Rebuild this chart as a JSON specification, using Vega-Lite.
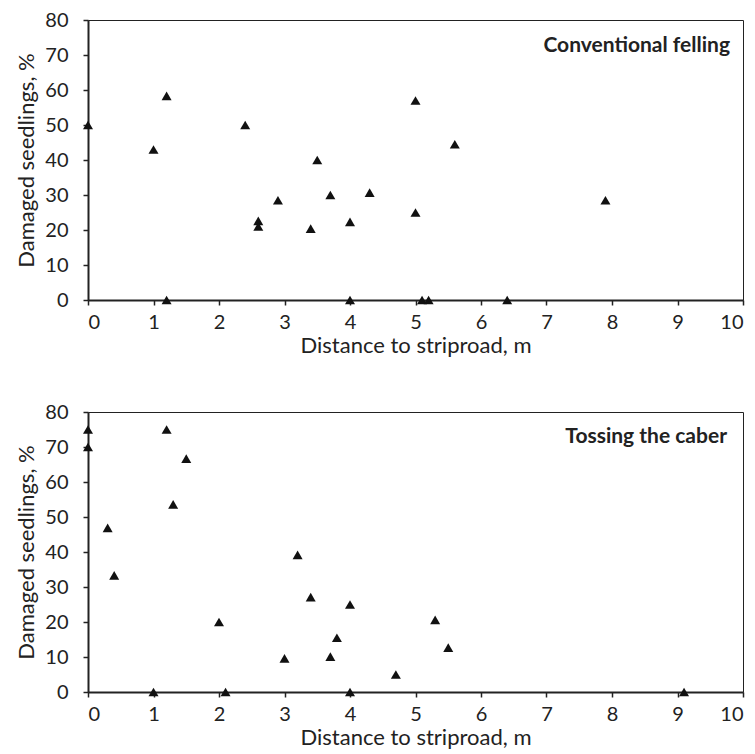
{
  "$schema": "https://vega.github.io/schema/vega-lite/v6.json",
  "padding": {"top": 9, "left": 15, "right": 5, "bottom": 0},
  "spacing": 44,
  "config": {
    "font": "Lato",
    "view": {"stroke": "#222", "strokeWidth": 1},
    "axis": {
      "grid": false,
      "domainColor": "#222",
      "domainWidth": 2,
      "tickColor": "#222",
      "tickWidth": 1.5,
      "tickSize": 5,
      "labelFont": "Lato",
      "labelFontSize": 20,
      "labelColor": "#222",
      "titleFont": "Lato",
      "titleFontSize": 22,
      "titleFontWeight": "normal",
      "titleColor": "#222"
    },
    "axisX": {"labelPadding": 7, "titlePadding": 3},
    "axisY": {"labelPadding": 15, "titlePadding": 6},
    "title": {"font": "Lato", "fontSize": 21, "fontWeight": "bold", "color": "#222"}
  },
  "datasets": {
    "conventional": [
      {"distance": 0, "damaged": 50},
      {"distance": 1.0, "damaged": 43},
      {"distance": 1.2, "damaged": 58.3},
      {"distance": 1.2, "damaged": 0},
      {"distance": 2.4, "damaged": 50},
      {"distance": 2.6, "damaged": 22.6},
      {"distance": 2.6, "damaged": 21},
      {"distance": 2.9, "damaged": 28.5},
      {"distance": 3.4, "damaged": 20.4},
      {"distance": 3.5, "damaged": 40},
      {"distance": 3.7, "damaged": 30},
      {"distance": 4.0, "damaged": 22.3},
      {"distance": 4.0, "damaged": 0},
      {"distance": 4.3, "damaged": 30.7},
      {"distance": 5.0, "damaged": 57},
      {"distance": 5.0, "damaged": 25},
      {"distance": 5.1, "damaged": 0},
      {"distance": 5.2, "damaged": 0},
      {"distance": 5.6, "damaged": 44.5},
      {"distance": 6.4, "damaged": 0},
      {"distance": 7.9, "damaged": 28.5}
    ],
    "caber": [
      {"distance": 0, "damaged": 75},
      {"distance": 0, "damaged": 70},
      {"distance": 0.3, "damaged": 46.9},
      {"distance": 0.4, "damaged": 33.3},
      {"distance": 1.0, "damaged": 0},
      {"distance": 1.2, "damaged": 75},
      {"distance": 1.3, "damaged": 53.6},
      {"distance": 1.5, "damaged": 66.7},
      {"distance": 2.0, "damaged": 20},
      {"distance": 2.1, "damaged": 0},
      {"distance": 3.0, "damaged": 9.6},
      {"distance": 3.2, "damaged": 39.2},
      {"distance": 3.4, "damaged": 27.1},
      {"distance": 3.7, "damaged": 10.1},
      {"distance": 3.8, "damaged": 15.5},
      {"distance": 4.0, "damaged": 25},
      {"distance": 4.0, "damaged": 0},
      {"distance": 4.7, "damaged": 5},
      {"distance": 5.3, "damaged": 20.6},
      {"distance": 5.5, "damaged": 12.7},
      {"distance": 9.1, "damaged": 0}
    ]
  },
  "vconcat": [
    {
      "data": {"name": "conventional"},
      "width": 655,
      "height": 280,
      "title": {"text": "Conventional felling", "anchor": "end", "frame": "group", "orient": "top", "offset": -46, "dx": -13},
      "mark": {"type": "point", "shape": "triangle-up", "filled": true, "color": "#111", "opacity": 1, "size": 100},
      "encoding": {
        "x": {"field": "distance", "type": "quantitative", "scale": {"domain": [0, 10], "nice": false},
              "axis": {"values": [0,1,2,3,4,5,6,7,8,9,10], "title": "Distance to striproad, m"}},
        "y": {"field": "damaged", "type": "quantitative", "scale": {"domain": [0, 80], "nice": false},
              "axis": {"values": [0,10,20,30,40,50,60,70,80], "title": "Damaged seedlings, %"}}
      }
    },
    {
      "data": {"name": "caber"},
      "width": 655,
      "height": 280,
      "title": {"text": "Tossing the caber", "anchor": "end", "frame": "group", "orient": "top", "offset": -45, "dx": -16},
      "mark": {"type": "point", "shape": "triangle-up", "filled": true, "color": "#111", "opacity": 1, "size": 100},
      "encoding": {
        "x": {"field": "distance", "type": "quantitative", "scale": {"domain": [0, 10], "nice": false},
              "axis": {"values": [0,1,2,3,4,5,6,7,8,9,10], "title": "Distance to striproad, m"}},
        "y": {"field": "damaged", "type": "quantitative", "scale": {"domain": [0, 80], "nice": false},
              "axis": {"values": [0,10,20,30,40,50,60,70,80], "title": "Damaged seedlings, %"}}
      }
    }
  ]
}
